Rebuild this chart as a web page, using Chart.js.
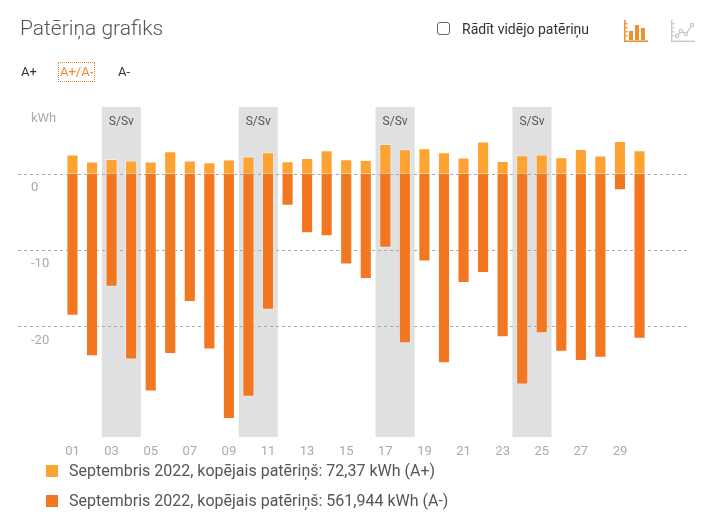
<!DOCTYPE html>
<html>
<head>
<meta charset="utf-8">
<script src="https://cdn.jsdelivr.net/npm/chart.js@4.4.0/dist/chart.umd.min.js"></script>
<style>
  html, body { margin:0; padding:0; background:#fff; }
  body { width:711px; height:518px; position:relative; overflow:hidden; font-family: Roboto, "Noto Sans", sans-serif; }
  #wrap { position:absolute; left:0; top:0; width:711px; height:518px; }
  .abs { position:absolute; white-space:nowrap; }
  #title { left:20px; top:14px; font-size:21px; font-weight:300; color:#555; line-height:28px; }
  #cb { left:437px; top:22px; width:11px; height:11px; border:1.5px solid #666; border-radius:3px; }
  #cbl { left:462px; top:20px; font-size:14px; color:#333; line-height:18px; }
  .tab { top:63px; font-size:13px; line-height:18px; color:#333; }
  #tab2 { left:58px; top:62px; color:#f0892b; border:1px dotted #f0892b; padding:0 1px; }
  #kwh { left:31px; top:110px; font-size:13px; color:#aaa; line-height:16px; }
  .leg { left:46px; font-size:16px; color:#555; line-height:20px; }
  .leg span.sq { display:inline-block; width:12px; height:12px; vertical-align:-1px; margin-right:11px; }
</style>
</head>
<body>
<div id="wrap"><canvas id="c" width="711" height="518"></canvas></div>

<div class="abs" id="title">Patēriņa grafiks</div>
<div class="abs" id="cb"></div>
<div class="abs" id="cbl">Rādīt vidējo patēriņu</div>
<svg class="abs" style="left:622px;top:19px" width="28" height="25" viewBox="0 0 28 25">
  <g fill="#f0912f">
    <rect x="2" y="1" width="1.6" height="22"/>
    <rect x="2" y="21.4" width="24" height="1.6"/>
    <rect x="3.6" y="4" width="2" height="1.3"/><rect x="3.6" y="8" width="2" height="1.3"/>
    <rect x="3.6" y="12" width="2" height="1.3"/><rect x="3.6" y="16" width="2" height="1.3"/>
    <rect x="7" y="12" width="4" height="9"/>
    <rect x="13" y="6" width="4" height="15"/>
    <rect x="19" y="9" width="4" height="12"/>
  </g>
</svg>
<svg class="abs" style="left:669px;top:19px" width="28" height="25" viewBox="0 0 28 25">
  <g fill="#c8c8c8">
    <rect x="2" y="1" width="1.4" height="22"/>
    <rect x="2" y="21.6" width="24" height="1.4"/>
    <rect x="3.4" y="4" width="2" height="1.2"/><rect x="3.4" y="8" width="2" height="1.2"/>
    <rect x="3.4" y="12" width="2" height="1.2"/><rect x="3.4" y="16" width="2" height="1.2"/>
  </g>
  <polyline points="8,17 12,12 17,15 23,6" fill="none" stroke="#c8c8c8" stroke-width="1.3"/>
  <g fill="#fff" stroke="#c8c8c8" stroke-width="1.2">
    <circle cx="8" cy="17" r="1.6"/><circle cx="12" cy="12" r="1.6"/><circle cx="17" cy="15" r="1.6"/><circle cx="23" cy="6" r="1.6"/>
  </g>
</svg>
<div class="abs tab" style="left:21px">A+</div>
<div class="abs tab" id="tab2">A+/A-</div>
<div class="abs tab" style="left:118px">A-</div>
<div class="abs" id="kwh">kWh</div>
<div class="abs leg" style="top:461px"><span class="sq" style="background:#fea232"></span>Septembris 2022, kopējais patēriņš: 72,37 kWh (A+)</div>
<div class="abs leg" style="top:491px"><span class="sq" style="background:#f37621"></span>Septembris 2022, kopējais patēriņš: 561,944 kWh (A-)</div>

<script>
// ---- data ----
const days = ['01','02','03','04','05','06','07','08','09','10',
              '11','12','13','14','15','16','17','18','19','20',
              '21','22','23','24','25','26','27','28','29','30'];
const consumedA = [2.48,1.57,1.91,1.70,1.57,2.92,1.70,1.48,1.83,2.22,
                   2.78,1.61,2.04,3.05,1.87,1.78,3.87,3.18,3.31,2.78,
                   2.09,4.18,1.65,2.39,2.48,2.13,3.22,2.35,4.26,3.05];
const producedA = [-18.6,-23.9,-14.8,-24.3,-28.5,-23.6,-16.8,-23.0,-32.1,-29.2,
                   -17.8,-4.2,-7.8,-8.2,-11.9,-13.8,-9.7,-22.2,-11.5,-24.8,
                   -14.3,-13.0,-21.4,-27.6,-20.9,-23.3,-24.5,-24.1,-2.2,-21.6];
const yTickValues = [0, -10, -20];
const weekendRanges = [['03','04'],['10','11'],['17','18'],['24','25']];
const weekendLabel = 'S/Sv';
const seriesNames = ['A+', 'A-'];

const bgPlugin = {
  id: 'bgPlugin',
  beforeDatasetsDraw(chart) {
    const {ctx, chartArea, scales:{x, y}} = chart;
    const step = x.getPixelForValue(1) - x.getPixelForValue(0);
    ctx.save();
    weekendRanges.forEach(([a, b]) => {
      const l = x.getPixelForValue(days.indexOf(a)) - step/2;
      const r = x.getPixelForValue(days.indexOf(b)) + step/2;
      ctx.fillStyle = '#e0e0e0';
      ctx.fillRect(l, chartArea.top, r - l, chartArea.bottom - chartArea.top);
      ctx.fillStyle = '#555';
      ctx.font = '12px Roboto';
      ctx.textAlign = 'center';
      ctx.textBaseline = 'middle';
      ctx.fillText(weekendLabel, (l + r)/2, chartArea.top + 15);
    });
    ctx.strokeStyle = '#a8a8a8';
    ctx.lineWidth = 1;
    ctx.setLineDash([3, 3]);
    y.ticks.forEach(t => {
      const py = Math.round(y.getPixelForValue(t.value)) + 0.5;
      ctx.beginPath();
      ctx.moveTo(18, py);
      ctx.lineTo(690, py);
      ctx.stroke();
    });
    ctx.restore();
  }
};

new Chart(document.getElementById('c'), {
  type: 'bar',
  data: {
    labels: days,
    datasets: [
      { label: seriesNames[0], data: consumedA, backgroundColor: '#fea232', borderColor: 'rgba(255,255,255,0.45)', borderWidth: 1 },
      { label: seriesNames[1], data: producedA, backgroundColor: '#f37621', borderColor: 'rgba(255,255,255,0.45)', borderWidth: 1 }
    ]
  },
  options: {
    responsive: false,
    animation: false,
    devicePixelRatio: 1,
    layout: { padding: { left: 31, right: 61.7, top: 107, bottom: 56 } },
    datasets: { bar: { categoryPercentage: 1, barPercentage: 0.62 } },
    plugins: { legend: { display: false }, tooltip: { enabled: false } },
    scales: {
      x: {
        stacked: true,
        grid: { display: false, drawTicks: false },
        border: { display: false },
        afterFit(s) { s.height = 25; },
        ticks: {
          autoSkip: false, maxRotation: 0, padding: 7,
          color: '#aaa', font: { family: 'Roboto', size: 13 },
          callback(v, i) { return i % 2 === 0 ? days[i] : ''; }
        }
      },
      y: {
        stacked: true,
        min: -34.45, max: 8.7,
        grid: { display: false, drawTicks: false },
        border: { display: false },
        afterBuildTicks(s) { s.ticks = yTickValues.map(v => ({ value: v })); },
        afterFit(s) { s.width = 31.7; },
        ticks: {
          crossAlign: 'far', labelOffset: 14, padding: 0,
          color: '#aaa', font: { family: 'Roboto', size: 13 },
          callback(v) { return String(v); }
        }
      }
    }
  },
  plugins: [bgPlugin]
});
</script>
</body>
</html>
